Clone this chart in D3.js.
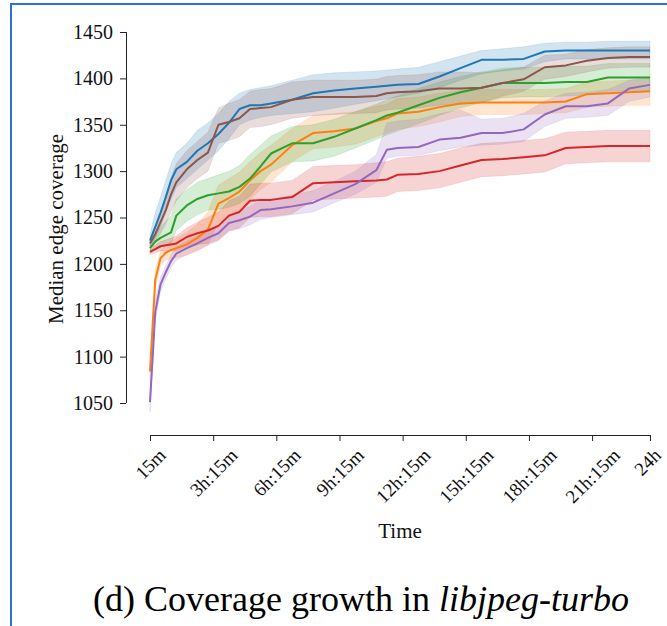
<!DOCTYPE html>
<html>
<head>
<meta charset="utf-8">
<script src="https://cdnjs.cloudflare.com/ajax/libs/d3/7.8.5/d3.min.js"></script>
<style>
  body { margin: 0; background: #fff; }
  svg { display: block; }
</style>
</head>
<body>
<div id="chart"></div>
<script>
// time in hours since start (first sample at 15 minutes)
const hours = [0.25, 0.5, 0.75, 1, 1.25, 1.5, 2, 2.5, 3, 3.5, 4, 4.5, 5, 5.5, 6, 7, 8, 9, 10, 11, 11.5, 12, 13, 14, 15, 16, 17, 18, 19, 20, 21, 22, 23, 24];

const tickHours = [0.25, 3.25, 6.25, 9.25, 12.25, 15.25, 18.25, 21.25, 24];
const tickLabels = ['15m', '3h:15m', '6h:15m', '9h:15m', '12h:15m', '15h:15m', '18h:15m', '21h:15m', '24h'];
const yTicks = [1050, 1100, 1150, 1200, 1250, 1300, 1350, 1400, 1450];

// medians and spread (lo / hi) per fuzzer
const blueMed = [1225,1240,1255,1272,1290,1302,1310,1322,1330,1340,1352,1367,1371,1371,1373,1377,1384,1387,1389,1391,1392,1393,1394,1402,1411,1420,1420,1421,1429,1430,1430,1430,1430,1430];
const blueLo  = [1218,1228,1240,1255,1270,1282,1292,1302,1312,1322,1335,1350,1355,1358,1360,1362,1364,1368,1372,1376,1378,1380,1384,1390,1398,1405,1408,1410,1418,1421,1421,1421,1421,1421];
const blueHi  = [1232,1255,1272,1290,1308,1320,1330,1344,1352,1362,1375,1384,1388,1390,1392,1398,1404,1406,1407,1408,1409,1410,1412,1418,1424,1430,1432,1434,1438,1439,1439,1440,1440,1440];

const orangeMed = [1084,1183,1206,1212,1215,1217,1221,1228,1237,1265,1271,1278,1290,1300,1307,1328,1341,1343,1346,1354,1357,1362,1364,1369,1373,1374,1374,1374,1374,1375,1383,1384,1385,1386];
const orangeLo  = [1078,1173,1198,1204,1206,1207,1209,1214,1220,1245,1250,1257,1270,1280,1288,1310,1324,1326,1329,1337,1341,1345,1348,1353,1359,1361,1361,1361,1362,1363,1369,1370,1371,1371];
const orangeHi  = [1090,1193,1214,1220,1224,1228,1234,1243,1256,1285,1292,1299,1310,1320,1328,1346,1360,1362,1364,1370,1372,1378,1380,1384,1387,1388,1388,1388,1388,1389,1396,1397,1398,1399];

const greenMed = [1217,1224,1228,1231,1234,1252,1263,1270,1274,1276,1278,1283,1292,1305,1319,1330,1330,1337,1346,1355,1360,1363,1371,1379,1385,1390,1395,1395,1395,1396,1396,1401,1401,1401];
const greenLo  = [1212,1215,1218,1220,1222,1236,1246,1253,1258,1259,1261,1265,1273,1286,1299,1310,1311,1316,1325,1334,1339,1343,1351,1360,1368,1374,1379,1380,1380,1381,1382,1386,1387,1387];
const greenHi  = [1222,1233,1240,1246,1252,1270,1280,1288,1292,1296,1300,1306,1318,1328,1338,1348,1350,1356,1364,1372,1377,1381,1389,1396,1402,1407,1411,1412,1412,1413,1413,1416,1416,1416];

const redMed = [1213,1216,1219,1220,1221,1222,1229,1233,1236,1241,1252,1256,1268,1269,1269,1272,1287,1288,1289,1290,1291,1296,1297,1300,1306,1312,1313,1315,1317,1325,1326,1327,1327,1327];
const redLo  = [1210,1212,1214,1214,1214,1214,1219,1221,1222,1226,1236,1239,1250,1251,1251,1254,1269,1270,1271,1272,1273,1278,1279,1282,1288,1294,1295,1297,1299,1308,1309,1310,1310,1310];
const redHi  = [1216,1220,1224,1226,1228,1230,1239,1245,1250,1256,1268,1273,1286,1287,1287,1290,1305,1306,1307,1309,1310,1314,1316,1319,1325,1330,1331,1333,1335,1342,1343,1344,1344,1344];

const purpleMed = [1051,1148,1178,1191,1203,1211,1217,1222,1228,1233,1244,1247,1251,1258,1259,1262,1266,1276,1286,1301,1323,1325,1326,1334,1336,1341,1341,1345,1361,1370,1370,1373,1389,1393];
const purpleLo  = [1040,1138,1170,1184,1196,1204,1210,1215,1220,1225,1235,1238,1242,1248,1250,1253,1256,1266,1275,1288,1314,1316,1317,1322,1326,1328,1329,1332,1348,1357,1358,1360,1375,1380];
const purpleHi  = [1060,1160,1186,1198,1210,1218,1225,1230,1236,1242,1253,1257,1262,1268,1270,1274,1279,1289,1300,1318,1352,1354,1356,1362,1366,1356,1357,1362,1376,1384,1385,1388,1398,1402];

const brownMed = [1222,1232,1245,1258,1275,1288,1302,1312,1320,1350,1353,1357,1367,1368,1369,1377,1380,1380,1380,1381,1384,1385,1386,1389,1389,1390,1395,1399,1412,1414,1419,1422,1423,1423];
const brownLo  = [1217,1224,1233,1243,1257,1268,1282,1292,1300,1330,1333,1337,1347,1348,1350,1357,1360,1361,1362,1363,1366,1367,1368,1371,1372,1374,1381,1386,1399,1402,1407,1411,1412,1412];
const brownHi  = [1227,1240,1257,1273,1293,1308,1322,1332,1342,1368,1373,1377,1386,1388,1389,1396,1398,1398,1398,1399,1402,1403,1404,1407,1407,1406,1409,1412,1425,1426,1431,1433,1434,1434];

const series = [
  { color: '#1f77b4', med: blueMed,   lo: blueLo,   hi: blueHi },
  { color: '#ff7f0e', med: orangeMed, lo: orangeLo, hi: orangeHi },
  { color: '#2ca02c', med: greenMed,  lo: greenLo,  hi: greenHi },
  { color: '#d62728', med: redMed,    lo: redLo,    hi: redHi },
  { color: '#9467bd', med: purpleMed, lo: purpleLo, hi: purpleHi },
  { color: '#8c564b', med: brownMed,  lo: brownLo,  hi: brownHi },
];

const width = 667, height = 626;
const serif = '"Liberation Serif"';

const svg = d3.select('#chart')
  .append('svg')
  .attr('width', width)
  .attr('height', height);

// blue frame of the screenshot
svg.append('path')
  .attr('d', 'M11,640 L11,4 L680,4')
  .attr('fill', 'none')
  .attr('stroke', '#2a6fe0')
  .attr('stroke-width', 2);

const x = d3.scaleLinear().domain([0.25, 24]).range([150, 650]);
const y = d3.scaleLinear().domain([1050, 1450]).range([403, 32]);

const plot = svg.append('g');

const area = d3.area()
  .x((d, i) => x(hours[i]))
  .y0(d => y(d[0]))
  .y1(d => y(d[1]));

const line = d3.line()
  .x((d, i) => x(hours[i]))
  .y(d => y(d));

series.forEach(s => {
  const band = s.lo.map((v, i) => [v, s.hi[i]]);
  plot.append('path')
    .datum(band)
    .attr('d', area)
    .attr('fill', s.color)
    .attr('fill-opacity', 0.2)
    .attr('stroke', s.color)
    .attr('stroke-opacity', 0.12)
    .attr('stroke-width', 1);
});

series.forEach(s => {
  plot.append('path')
    .datum(s.med)
    .attr('d', line)
    .attr('fill', 'none')
    .attr('stroke', s.color)
    .attr('stroke-width', 2)
    .attr('stroke-linejoin', 'round');
});

// y axis (trimmed spine)
const yAxis = svg.append('g')
  .attr('transform', 'translate(126,0)')
  .call(d3.axisLeft(y).tickValues(yTicks).tickSize(6).tickPadding(7).tickFormat(d3.format('d')));
yAxis.select('.domain').attr('d', `M0.5,${y(1050)}V${y(1450)}`).attr('stroke', '#222');
yAxis.selectAll('.tick line').attr('stroke', '#222');
yAxis.selectAll('text')
  .style('font-family', serif)
  .style('font-size', '20px')
  .attr('fill', '#111');

// x axis
const xAxis = svg.append('g')
  .attr('transform', 'translate(0,435)')
  .call(d3.axisBottom(x).tickValues(tickHours).tickSize(6).tickFormat((d, i) => tickLabels[i]));
xAxis.select('.domain').attr('d', `M${x(0.25)},0.5H${x(24)}`).attr('stroke', '#222');
xAxis.selectAll('.tick line').attr('stroke', '#222');
xAxis.selectAll('.tick text')
  .style('font-family', serif)
  .style('font-size', '19px')
  .attr('fill', '#111')
  .attr('text-anchor', 'middle')
  .attr('dominant-baseline', 'central')
  .attr('y', null)
  .attr('dy', null)
  .attr('transform', function (d, i) {
    const w = this.getComputedTextLength();
    const h = 14;
    const off = 12 + (w + h) / (2 * Math.SQRT2);
    const shift = i === tickLabels.length - 1 ? -3 : 0;
    return `translate(${shift},${off}) rotate(-45)`;
  });

svg.append('text')
  .attr('x', 400)
  .attr('y', 538)
  .attr('text-anchor', 'middle')
  .style('font-family', serif)
  .style('font-size', '21px')
  .attr('fill', '#111')
  .text('Time');

svg.append('text')
  .attr('transform', 'translate(63,229) rotate(-90)')
  .attr('text-anchor', 'middle')
  .style('font-family', serif)
  .style('font-size', '21px')
  .attr('fill', '#111')
  .text('Median edge coverage');

// caption
const cap = svg.append('text')
  .attr('x', 361)
  .attr('y', 611)
  .attr('text-anchor', 'middle')
  .style('font-family', serif)
  .style('font-size', '36px')
  .attr('fill', '#000');
cap.append('tspan').text('(d) Coverage growth in ');
cap.append('tspan').style('font-style', 'italic').text('libjpeg-turbo');
</script>
</body>
</html>
